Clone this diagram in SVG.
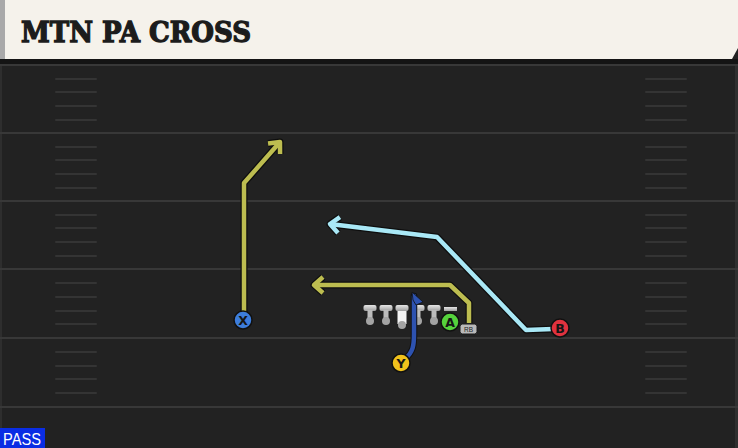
<svg xmlns="http://www.w3.org/2000/svg" width="738" height="448" viewBox="0 0 738 448">
<style>
.yard{stroke:#383838;stroke-width:2}
.hash{stroke:#343434;stroke-width:2;stroke-linecap:round}
.outline{fill:none;stroke:#0e0e0e;stroke-width:7;stroke-linejoin:round}
.lbl{font-family:"DejaVu Sans","Liberation Sans",sans-serif;font-weight:bold;font-size:12.5px;fill:#151515;text-anchor:middle}
.ply{stroke:#111;stroke-width:1.5}
</style>
<defs>
<linearGradient id="lg" x1="0" y1="0" x2="0" y2="1"><stop offset="0" stop-color="#e6e6e6"/><stop offset="1" stop-color="#a0a0a0"/></linearGradient>
<marker id="ahK" markerUnits="userSpaceOnUse" orient="auto" overflow="visible" markerWidth="1" markerHeight="1" refX="0" refY="0"><path d="M-9,-8 L0,0 L-9,8" fill="none" stroke="#0e0e0e" stroke-width="7" stroke-linejoin="round"/></marker>
<marker id="ahO" markerUnits="userSpaceOnUse" orient="auto" overflow="visible" markerWidth="1" markerHeight="1" refX="0" refY="0"><path d="M-9,-8 L0,0 L-9,8" fill="none" stroke="#bdbd50" stroke-width="4.5" stroke-linejoin="round"/></marker>
<marker id="ahC" markerUnits="userSpaceOnUse" orient="auto" overflow="visible" markerWidth="1" markerHeight="1" refX="0" refY="0"><path d="M-9,-8 L0,0 L-9,8" fill="none" stroke="#a9e8f6" stroke-width="4.5" stroke-linejoin="round"/></marker>
<g id="lineman"><rect x="-6.5" y="305" width="13" height="6" rx="2" fill="url(#lg)"/><rect x="-2.5" y="310" width="5" height="10" fill="#bdbdbd"/><circle cx="0" cy="321" r="4" fill="#a4a4a4"/></g>
</defs>
<rect width="738" height="448" fill="#222"/>
<rect x="0" y="59" width="738" height="6" fill="#141414"/>
<rect x="0" y="65" width="2" height="383" fill="#2e2e2e"/>
<rect x="735" y="65" width="3" height="383" fill="#2f2f2f"/>
<g id="field">
<line class="yard" x1="0" y1="65" x2="738" y2="65"/>
<line class="yard" x1="0" y1="133" x2="738" y2="133"/>
<line class="yard" x1="0" y1="201" x2="738" y2="201"/>
<line class="yard" x1="0" y1="269" x2="738" y2="269"/>
<line class="yard" x1="0" y1="338" x2="738" y2="338"/>
<line class="yard" x1="0" y1="407" x2="738" y2="407"/>
<g id="hashL">
<line class="hash" x1="56" y1="79" x2="96" y2="79"/><line class="hash" x1="56" y1="92" x2="96" y2="92"/><line class="hash" x1="56" y1="106" x2="96" y2="106"/><line class="hash" x1="56" y1="120" x2="96" y2="120"/>
<line class="hash" x1="56" y1="147" x2="96" y2="147"/><line class="hash" x1="56" y1="160" x2="96" y2="160"/><line class="hash" x1="56" y1="174" x2="96" y2="174"/><line class="hash" x1="56" y1="188" x2="96" y2="188"/>
<line class="hash" x1="56" y1="215" x2="96" y2="215"/><line class="hash" x1="56" y1="228" x2="96" y2="228"/><line class="hash" x1="56" y1="242" x2="96" y2="242"/><line class="hash" x1="56" y1="256" x2="96" y2="256"/>
<line class="hash" x1="56" y1="283" x2="96" y2="283"/><line class="hash" x1="56" y1="297" x2="96" y2="297"/><line class="hash" x1="56" y1="311" x2="96" y2="311"/><line class="hash" x1="56" y1="324" x2="96" y2="324"/>
<line class="hash" x1="56" y1="352" x2="96" y2="352"/><line class="hash" x1="56" y1="366" x2="96" y2="366"/><line class="hash" x1="56" y1="379" x2="96" y2="379"/><line class="hash" x1="56" y1="393" x2="96" y2="393"/>
</g>
<use href="#hashL" x="590"/>
</g>
<g id="header">
<polygon points="0,0 738,0 738,48 732,59 0,59" fill="#f5f2eb"/>
<rect x="0" y="0" width="5" height="59" fill="#a9a9a9"/>
<text x="21" y="42" font-family="'DejaVu Serif','Liberation Serif',serif" font-weight="bold" font-size="27" fill="#1c1c1c" stroke="#1c1c1c" stroke-width="1.3" stroke-linejoin="miter" textLength="230" lengthAdjust="spacingAndGlyphs">MTN PA CROSS</text>
</g>
<g id="connectors">
<g id="route-x">
<path class="outline" d="M244,316 L244,183 L280,142" marker-end="url(#ahK)"/>
<path d="M244,316 L244,183 L280,142" fill="none" stroke="#bdbd50" stroke-width="4.5" stroke-linejoin="round" marker-end="url(#ahO)"/>
</g>
<g id="route-a">
<path class="outline" d="M469,323 L469,303 L450,285 L314,285" marker-end="url(#ahK)"/>
<path d="M469,323 L469,303 L450,285 L314,285" fill="none" stroke="#bdbd50" stroke-width="4.5" stroke-linejoin="round" marker-end="url(#ahO)"/>
</g>
<g id="route-b">
<path class="outline" d="M553,329 L526,330 L437,237 L330,224" marker-end="url(#ahK)"/>
<path d="M553,329 L526,330 L437,237 L330,224" fill="none" stroke="#a9e8f6" stroke-width="4.5" stroke-linejoin="round" marker-end="url(#ahC)"/>
</g>
</g>
<g id="ol">
<use href="#lineman" x="370"/>
<use href="#lineman" x="386"/>
<g id="center"><rect x="395.5" y="305" width="13" height="6" rx="2" fill="url(#lg)"/><rect x="397.5" y="311" width="9" height="13" fill="#f4f4f4"/><circle cx="402" cy="325" r="4" fill="#a4a4a4"/></g>
<use href="#lineman" x="418"/>
<use href="#lineman" x="434"/>
<rect x="444" y="307" width="13" height="4" fill="url(#lg)"/>
</g>
<g id="route-y">
<path d="M405,359 C413,352 414,346 414,334 L414,296" fill="none" stroke="#111" stroke-width="6.5" stroke-linecap="round"/>
<path d="M405,359 C413,352 414,346 414,334 L414,296" fill="none" stroke="#2d52b0" stroke-width="4.5" stroke-linecap="round"/>
<polygon points="412,292 423,302 416,305 413,300" fill="#2d52b0" stroke="#111" stroke-width="0.8"/>
</g>
<g id="player-x"><circle class="ply" cx="243" cy="320" r="9" fill="#3d7ddb"/><text class="lbl" x="243" y="324.5">X</text></g>
<g id="player-y"><circle class="ply" cx="401" cy="363" r="9" fill="#f0c21c"/><text class="lbl" x="401" y="367.5">Y</text></g>
<g id="player-a"><circle class="ply" cx="450" cy="322" r="9" fill="#55d23c"/><text class="lbl" x="450" y="326.5">A</text></g>
<g id="player-b"><circle class="ply" cx="560" cy="328" r="9" fill="#e1323e"/><text class="lbl" x="560" y="332.5">B</text></g>
<g id="rb-tag"><rect x="460" y="324" width="17" height="10" rx="2.5" fill="#b9b9b9" stroke="#1a1a1a" stroke-width="1"/><text x="468.5" y="331.5" font-family="'Liberation Sans',sans-serif" font-size="6.5" fill="#222" text-anchor="middle">RB</text></g>
<g id="pass-tag"><rect x="0" y="428" width="45" height="20" fill="#0a2de4"/><text x="3" y="445" font-family="'Liberation Sans',sans-serif" font-size="16" fill="#fff" textLength="38" lengthAdjust="spacingAndGlyphs">PASS</text></g>
</svg>
